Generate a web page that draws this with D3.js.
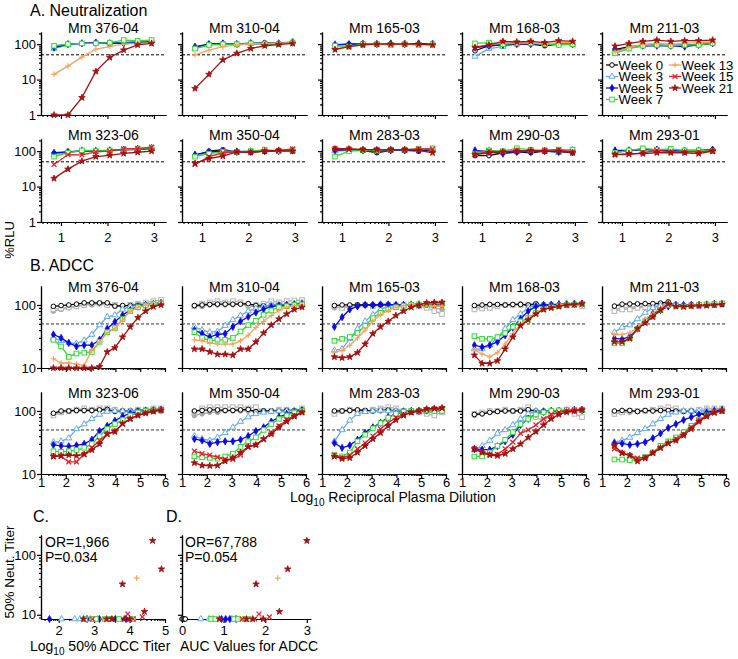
<!DOCTYPE html>
<html><head><meta charset="utf-8">
<script src="https://cdn.jsdelivr.net/npm/d3@7"></script>
<style>body{margin:0;background:#fff}svg{display:block}text{font-family:"Liberation Sans",Arial,sans-serif}</style>
</head><body><svg id="c" width="738" height="659"></svg>
<script>
// ---------- data ----------
const dilA = [0.85, 1.15, 1.45, 1.75, 2.05, 2.35, 2.65, 2.95];   // log10 reciprocal dilution (neut)
const dilB = [1.5, 1.81, 2.12, 2.43, 2.74, 3.05, 3.36, 3.67, 3.98, 4.29, 4.6, 4.91, 5.22, 5.53, 5.84]; // ADCC
const animals = ["Mm 376-04","Mm 310-04","Mm 165-03","Mm 168-03","Mm 211-03","Mm 323-06","Mm 350-04","Mm 283-03","Mm 290-03","Mm 293-01"];
const weeks = ["Week 0","Week 3","Week 5","Week 7","Week 13","Week 15","Week 21"];
const weekColors = ["#000000","#62a8ec","#0a0ae6","#2edc2e","#f6a25a","#e8222a","#a31212"];
const yTicksA = [1, 10, 100];
const xTicksA = [1, 2, 3];
const yTicksB = [10, 100];
const xTicksB = [1, 2, 3, 4, 5, 6];
const yTicksC = [10, 100];
const xTicksC = [2, 3, 4, 5];
const xTicksD = [0, 1, 2, 3];

// Neutralization %RLU: [wk0, wk3, wk5, wk7, wk13, wk15, wk21]
const neut_376_04 = [[85,100,105,110,110,110,115,120],[75,95,105,112,105,110,115,125],[80,100,105,110,105,105,110,115],[90,100,105,105,110,130,125,130],[14,24,43,72,85,100,105,110],null,[1,1,3.1,17,42,68,95,105]];
const neut_310_04 = [[80,100,105,100,105,110,105,110],[75,95,100,100,110,105,105,120],[85,100,105,100,105,100,105,110],[75,95,100,100,105,100,100,110],[50,68,85,95,100,105,105,110],null,[5.6,14,36,55,75,90,97,105]];
const neut_165_03 = [[95,100,105,100,100,100,100,100],[100,95,105,100,100,105,100,105],[95,100,100,100,105,100,105,100],[90,85,100,100,95,100,95,100],[75,85,95,100,100,100,95,95],null,[70,85,95,100,100,100,100,95]];
const neut_168_03 = [[65,90,95,100,100,90,100,100],[45,75,85,100,105,100,105,100],[80,90,95,100,100,100,100,100],[105,110,100,105,105,100,95,100],[85,95,110,110,110,100,110,110],null,[80,95,120,115,120,110,125,120]];
const neut_211_03 = [[70,85,90,95,90,95,95,105],[65,80,90,95,95,90,95,110],[65,80,90,90,90,85,95,105],[55,75,90,95,90,95,95,105],[60,80,100,105,100,105,110,115],null,[88,105,120,130,120,125,125,130]];
const neut_323_06 = [[85,95,100,100,105,110,110,120],[80,95,105,105,105,110,115,125],[90,95,100,100,105,110,115,120],[70,90,105,100,105,110,115,125],null,[42,80,78,95,100,115,120,130],[17,31,52,70,76,86,93,100]];
const neut_350_04 = [[75,100,110,95,95,100,100,105],[75,90,100,100,100,105,105,100],[80,95,100,95,95,100,100,105],[70,85,95,95,100,110,100,110],null,[42,70,90,95,95,100,105,115],[45,62,72,95,92,100,105,100]];
const neut_283_03 = [[110,110,105,90,105,105,100,110],[100,105,105,100,105,105,110,115],[105,110,105,100,105,105,105,110],[70,100,105,105,110,110,115,120],null,[120,115,110,110,110,110,115,115],[115,115,110,110,110,110,105,90]];
const neut_290_03 = [[75,75,90,95,90,100,100,90],[95,105,95,95,100,100,90,110],[105,95,85,95,95,100,95,95],[85,105,100,120,110,105,110,110],null,[80,100,95,105,100,105,110,95],[80,90,95,100,105,100,100,90]];
const neut_293_01 = [[95,100,115,105,100,105,105,110],[100,105,110,110,110,105,105,110],[105,105,110,110,105,100,100,110],[90,105,120,110,115,105,105,100],null,[80,80,90,105,95,95,95,100],[80,85,85,90,90,90,85,100]];

// ADCC %RLU: [wk0, wk3, wk5, wk7, wk13, wk15, wk21]
const adcc_376_04 = [[95,98,100,103,108,108,108,108,96,98,98,100,100,103,103],[30,27,25,24.5,27.5,34,48,65,69,85,95,98,100,102,105],[34,30,25,22,23,23,28,42,54,69,83,94,100,104,108],[28,22,15,17,17.5,18,26,37,43,60,80,92,98,103,106],[14,12,12,11.5,11,19,26,36,42,58,80,92,100,105,106],null,[10,10,10,10,10,10,10.5,18,21,31,45,63,80,94,100]];
const adcc_310_04 = [[98,100,102,103,103,103,103,105,98,97,98,100,100,100,100],[45,40,37,38,47,58,68,80,88,95,100,100,102,105,108],[40,35,31,34,35,45,55,65,76,86,94,98,100,102,104],[37,30,27,28,28,30,38,48,56,70,82,92,96,100,102],[28,27,25,24,24,24,27,33,44,55,68,82,92,98,100],null,[20,20,18,16.5,16.5,16,20,20,26,36,48,60,72,85,92]];
const adcc_165_03 = [[98,100,100,100,100,100,100,100,98,98,100,100,100,100,100],[19,20,29,42,55,70,85,95,100,100,102,104,105,105,105],[45,64,85,95,100,100,102,102,100,100,100,100,102,104,106],[27,29,31,36,47,62,75,85,92,97,100,102,103,104,106],[18,19,23,30,40,55,70,82,92,98,102,104,100,95,95],null,[15,14.5,15,17.5,24,35,45,55,68,80,92,100,108,110,110]];
const adcc_168_03 = [[98,100,102,102,100,102,102,100,105,98,100,100,100,102,102],[20,20,23,30,42,58,72,90,100,100,102,104,106,106,106],[23,21.5,23,26,33,44,60,80,95,100,100,102,102,104,105],[32,29,29,31,36,45,55,62,75,85,92,96,100,102,104],[19.6,16.7,15,17.5,24,35,50,60,75,88,95,100,102,104,104],null,[16,11.8,11.8,13,20,31,47,58,72,85,90,95,100,102,105]];
const adcc_211_03 = [[96,103,104,104,105,105,107,112,95,98,100,100,100,102,102],[37,44,48,60,76,90,98,102,100,100,100,100,102,104,105],[29.5,28.7,31.5,42,55,73,83,95,100,100,100,100,102,104,105],[24.6,24.6,29.5,42,55,65,83,100,97,95,97,100,102,104,106],[34,34,36,44,60,74,90,105,95,98,100,100,102,104,106],null,[26,26,29.5,42,52,65,83,104,95,94,96,97,98,100,102]];
const adcc_323_06 = [[92,100,100,102,102,102,104,106,98,100,100,102,102,104,104],[32,33,37,52,62,75,88,98,100,100,100,102,102,104,104],[29,28,27.5,28.5,30,35,48,58,70,82,92,98,100,102,104],[23,22.5,23,24,26,30,40,52,62,72,85,95,100,102,104],null,[19,19,15.6,15.6,20.5,26,34,43,48,62,75,86,94,100,104],[19,19.5,20,19.5,20.5,24,30,43,47,63,75,85,92,98,102]];
const adcc_350_04 = [[100,102,104,104,102,102,104,106,98,100,100,100,102,102,104],[40,36,34,38,45,55,68,80,90,95,98,100,100,102,104],[36,34,30,32,33,33,35,40,48,55,68,80,90,97,102],[19,18.5,18,17.5,19,21,27,33,38,50,62,75,85,95,100],null,[23,21,20,18.5,17,17,20,27,29,35,45,58,72,85,95],[15,13.7,13.5,13.7,16,18,22,27,29,36,43,55,68,82,95]];
const adcc_283_03 = [[100,100,102,104,102,100,102,104,100,100,100,100,100,102,102],[33,50,71,90,97,100,102,100,100,100,100,100,102,104,104],[31,26,28.5,35,45,55,65,80,90,97,100,100,102,104,104],[20,19,22,33,42,53,64,78,90,98,100,100,102,100,100],null,[20,18,20,25,31,40,52,65,78,88,95,100,105,108,110],[19,17.5,18,22,28,36,45,58,72,85,95,100,108,110,112]];
const adcc_290_03 = [[88,90,95,98,100,100,100,105,100,100,100,100,100,102,102],[24,28,34,44,50,60,75,90,100,100,100,100,102,104,104],[25,24.3,24.3,27.5,33,42,60,75,90,97,100,100,102,104,104],[19,19,22,28,35,46,62,75,88,95,100,102,104,104,104],null,[25,22.5,20.5,20.5,25,32,44,50,60,75,88,95,100,102,104],[25,22,20,19.5,21,25,30,38,47,60,75,88,96,100,104]];
const adcc_293_01 = [[100,102,102,98,102,100,102,102,100,98,100,92,85,100,102],[32,34,38,45,52,62,75,88,95,100,100,100,102,104,104],[31,30.5,29,30,32,37,44,54,62,72,80,88,95,100,104],[17,17,16.5,17,18.5,22,28,33,38,46,58,72,85,95,100],null,[25,21.5,19.8,17.8,18.5,21.5,26,30,36,43,55,70,85,95,100],[28,21.5,19.8,16,17.8,21.5,26,31,34,41,52,68,82,94,100]];

// ADCC control curves (grey): [open squares, filled]
const ctrl_376_04 = [[85,88,92,95,100,105,105,100,100,95,100,105,110,115,120],[80,85,90,95,100,100,105,100,95,95,100,100,105,105,110]];
const ctrl_310_04 = [[95,105,110,115,110,115,110,100,100,105,115,110,115,118,120],[95,95,100,100,100,100,105,95,95,95,100,105,100,100,105]];
const ctrl_165_03 = [[95,90,95,100,100,95,100,100,100,100,100,95,90,80,72],[90,92,95,98,100,100,100,100,100,100,100,98,95,90,85]];
const ctrl_168_03 = [[85,88,90,95,100,100,100,100,100,100,100,95,100,100,95],[90,95,100,100,100,100,105,100,100,100,100,100,100,100,100]];
const ctrl_211_03 = [[80,85,85,90,92,95,95,100,100,95,100,100,100,100,105],[85,90,90,95,95,100,100,105,100,100,100,100,100,105,105]];
const ctrl_323_06 = [[85,95,100,105,110,105,110,110,105,100,100,105,105,110,110],[90,95,100,100,100,100,105,100,100,100,100,100,100,105,105]];
const ctrl_350_04 = [[95,110,115,115,115,115,115,110,115,100,100,105,105,100,110],[85,90,95,95,100,100,100,100,95,100,100,100,100,100,100]];
const ctrl_283_03 = [[90,100,105,100,100,105,110,115,110,100,100,95,90,85,95],[95,100,100,105,100,100,100,100,100,95,100,100,95,95,100]];
const ctrl_290_03 = [[90,95,100,100,105,100,105,115,80,70,85,95,100,90,80],[85,90,95,100,100,100,100,100,100,100,100,100,100,100,100]];
const ctrl_293_01 = [[90,95,100,100,100,105,110,115,110,100,100,105,110,110,110],[90,95,95,100,100,100,100,100,100,100,100,100,100,100,100]];

// Panel C: log10 50% ADCC titer vs 50% neut titer (8.5 = below detection)
const cWeek  = [1,1,1,1,1, 2,2,2,2,2, 3,3,3,3,3,3,3, 4,4, 5,5,5,5,5, 6,6,6,6,6,6,6,6,6];
const cTiter = [2.08,2.45,2.6,2.9,3.1, 1.74,2.8,3.15,3.6,3.9, 2.75,2.95,3.05,3.3,3.45,3.7,4.1, 3.25,4.2, 2.95,3.5,3.95,4.36,4.1, 2.7,3.35,3.5,3.85,4.0,3.8,4.42,4.65,4.9];
const cNeut  = [8.5,8.5,8.5,8.5,8.5, 8.5,8.5,8.5,8.5,8.5, 8.5,8.5,8.5,8.5,8.5,8.5,8.5, 8.5,41, 8.5,8.5,10.3,9.2,8.5, 8.5,8.5,8.5,8.5,8.5,32.5,11.3,173,58];
// Panel D: AUC values for ADCC vs 50% neut titer
const dWeek = [0,0,0,0, 1,1,1,1, 2,2,2,2, 3,3,3,3,3,3, 4,4, 5,5,5,5, 6,6,6,6,6,6,6,6];
const dAUC  = [0,0.03,0.06,0.08, 0.45,0.65,0.75,1.2, 0.95,1.05,1.15,1.3, 0.7,0.8,1.25,1.35,1.5,1.6, 1.4,2.3, 1.45,1.75,1.85,2.1, 0.9,1.55,1.7,1.95,1.78,2.34,2.54,3.0];
const dNeut = [8.5,8.5,8.5,8.5, 8.5,8.5,8.5,8.5, 8.5,8.5,8.5,8.5, 8.5,8.5,8.5,8.5,8.5,8.5, 8.5,41, 8.5,8.5,10.3,9.2, 8.5,8.5,8.5,8.5,32.5,11.3,58,173];

const neutPanels = [neut_376_04,neut_310_04,neut_165_03,neut_168_03,neut_211_03,neut_323_06,neut_350_04,neut_283_03,neut_290_03,neut_293_01];
const adccPanels = [adcc_376_04,adcc_310_04,adcc_165_03,adcc_168_03,adcc_211_03,adcc_323_06,adcc_350_04,adcc_283_03,adcc_290_03,adcc_293_01];
const ctrlPanels = [ctrl_376_04,ctrl_310_04,ctrl_165_03,ctrl_168_03,ctrl_211_03,ctrl_323_06,ctrl_350_04,ctrl_283_03,ctrl_290_03,ctrl_293_01];

// ---------- drawing ----------
const svg = d3.select("#c");
const FONT = '"Liberation Sans",Arial,sans-serif';
const colLeft = [41, 182, 322, 462, 602];
const PW = 125;

function drawSym(g, t, c) {
  switch (t) {
    case 0: g.append("circle").attr("r", 2.3).attr("fill", "#fff").attr("stroke", c).attr("stroke-width", 1); break;
    case 1: g.append("path").attr("d", d3.symbol(d3.symbolTriangle, 16)()).attr("fill", "#fff").attr("stroke", c).attr("stroke-width", 1); break;
    case 2: g.append("path").attr("d", d3.symbol(d3.symbolDiamond, 15)()).attr("fill", c).attr("stroke", c).attr("stroke-width", 0.8); break;
    case 3: g.append("rect").attr("x", -2.3).attr("y", -2.3).attr("width", 4.6).attr("height", 4.6).attr("fill", "#fff").attr("stroke", c).attr("stroke-width", 1); break;
    case 4: g.append("path").attr("d", "M-2.8,0H2.8M0,-2.8V2.8").attr("stroke", c).attr("stroke-width", 1.1); break;
    case 5: g.append("path").attr("d", "M-2.4,-2.4L2.4,2.4M-2.4,2.4L2.4,-2.4").attr("stroke", c).attr("stroke-width", 1.3); break;
    case 6: g.append("path").attr("d", d3.symbol(d3.symbolStar, 13)()).attr("fill", c).attr("stroke", c).attr("stroke-width", 0.9); break;
    case 7: g.append("circle").attr("r", 2.3).attr("fill", c).attr("stroke", c); break;
  }
}

function logMinorVals(d0, d1) {
  const out = [];
  for (let e = Math.floor(Math.log10(d0)) - 1; e <= Math.ceil(Math.log10(d1)); e++)
    for (let k = 2; k <= 9; k++) { const v = k * Math.pow(10, e); if (v > d0 * 1.0001 && v < d1) out.push(v); }
  return out;
}
function linLogMinorVals(d0, d1) {
  const out = [];
  for (let n = Math.floor(d0) - 1; n <= Math.ceil(d1); n++)
    for (let k = 2; k <= 9; k++) { const v = n + Math.log10(k); if (v > d0 + 0.01 && v < d1) out.push(v); }
  return out;
}
function styleAxis(s) {
  s.attr("font-family", FONT).attr("font-size", 13);
  s.selectAll("path,line").attr("stroke", "#000").attr("stroke-width", 1.2);
  s.selectAll("text").attr("fill", "#000");
}
function yAxis(g, y, left, majors, labels) {
  g.append("g").attr("transform", `translate(${left},0)`)
    .call(d3.axisLeft(y).tickValues(logMinorVals(...y.domain())).tickSize(2).tickSizeOuter(0).tickFormat(""))
    .call(styleAxis);
  g.append("g").attr("transform", `translate(${left},0)`)
    .call(d3.axisLeft(y).tickValues(majors).tickSize(4).tickSizeOuter(0).tickPadding(1).tickFormat(labels ? d3.format("d") : ""))
    .call(styleAxis);
}
function xAxis(g, x, bottom, majors, labels, pad, minor) {
  if (minor) g.append("g").attr("transform", `translate(0,${bottom})`)
    .call(d3.axisBottom(x).tickValues(linLogMinorVals(...x.domain())).tickSize(2).tickSizeOuter(0).tickFormat(""))
    .call(styleAxis);
  g.append("g").attr("transform", `translate(0,${bottom})`)
    .call(d3.axisBottom(x).tickValues(majors).tickSize(4).tickSizeOuter(0).tickPadding(pad).tickFormat(labels ? d3.format("d") : ""))
    .call(styleAxis);
}

function drawSeries(g, xs, vals, x, y, t, c) {
  const pts = vals.map((v, i) => [xs[i], v]);
  g.append("path").datum(pts)
    .attr("d", d3.line().x(d => x(d[0])).y(d => y(d[1])))
    .attr("fill", "none").attr("stroke", c).attr("stroke-width", 1.3);
  g.append("g").selectAll("g").data(pts).join("g")
    .attr("transform", d => `translate(${x(d[0])},${y(d[1])})`)
    .each(function () { drawSym(d3.select(this), t, c); });
}

function label(x, y, txt, size, anchor) {
  return svg.append("text").attr("x", x).attr("y", y).attr("font-size", size).attr("font-family", FONT)
    .attr("text-anchor", anchor || "start").text(txt);
}
label(30, 15.5, "A. Neutralization", 16);
label(30, 270.5, "B. ADCC", 16);
label(33, 521.5, "C.", 16);
label(166, 521.5, "D.", 16);

svg.append("text").attr("transform", "translate(14,240) rotate(-90)").attr("text-anchor", "middle")
  .attr("font-size", 13).attr("font-family", FONT).text("%RLU");

// ---- Panel A ----
const rowTopA = [32, 139], HA = 83;
neutPanels.forEach((series, p) => {
  const r = Math.floor(p / 5), c = p % 5;
  const left = colLeft[c], top = rowTopA[r], bottom = top + HA;
  const x = d3.scaleLinear().domain([0.57, 3.26]).range([left, left + PW]);
  const y = d3.scaleLog().domain([1, 220]).range([bottom, top]);
  const g = svg.append("g");
  yAxis(g, y, left, yTicksA, c === 0);
  xAxis(g, x, bottom, xTicksA, r === 1, 6.5, true);
  g.append("line").attr("x1", left).attr("x2", left + PW).attr("y1", y(50)).attr("y2", y(50))
    .attr("stroke", "#000").attr("stroke-width", 1).attr("stroke-dasharray", "3,2");
  g.append("text").attr("x", left + PW / 2).attr("y", top + 1).attr("text-anchor", "middle")
    .attr("font-size", 14).attr("font-family", FONT).text(animals[p]);
  series.forEach((vals, w) => { if (vals) drawSeries(g, dilA, vals, x, y, w, weekColors[w]); });
});

// Legend (inside Mm 211-03 panel)
const legPos = [[612, 65], [612, 76.5], [612, 88], [612, 99.5], [675, 65], [675, 76.5], [675, 88]];
weeks.forEach((wk, i) => {
  const [cx, cy] = legPos[i];
  const lg = svg.append("g");
  lg.append("line").attr("x1", cx - 6).attr("x2", cx + 6).attr("y1", cy).attr("y2", cy)
    .attr("stroke", weekColors[i]).attr("stroke-width", 1.3);
  drawSym(lg.append("g").attr("transform", `translate(${cx},${cy})`), i, weekColors[i]);
  lg.append("text").attr("x", cx + 6.5).attr("y", cy + 4.8).attr("font-size", 13.2).attr("font-family", FONT).text(wk);
});

// ---- Panel B ----
const rowTopB = [286, 392], HB = 82;
adccPanels.forEach((series, p) => {
  const r = Math.floor(p / 5), c = p % 5;
  const left = colLeft[c], top = rowTopB[r], bottom = top + HB;
  const x = d3.scaleLinear().domain([1, 6]).range([left, left + 124]);
  const y = d3.scaleLog().domain([10, 200]).range([bottom, top]);
  const g = svg.append("g");
  yAxis(g, y, left, yTicksB, c === 0);
  xAxis(g, x, bottom, xTicksB, r === 1, 0, true);
  g.append("line").attr("x1", left).attr("x2", left + 124).attr("y1", y(50)).attr("y2", y(50))
    .attr("stroke", "#333").attr("stroke-width", 1).attr("stroke-dasharray", "3,2");
  g.append("text").attr("x", left + PW / 2).attr("y", top + 5.5).attr("text-anchor", "middle")
    .attr("font-size", 14).attr("font-family", FONT).text(animals[p]);
  const ctrl = ctrlPanels[p];
  drawSeries(g, dilB, ctrl[1], x, y, 7, "#a6a6a6");
  drawSeries(g, dilB, ctrl[0], x, y, 3, "#b3b3b3");
  series.forEach((vals, w) => { if (vals) drawSeries(g, dilB, vals, x, y, w, weekColors[w]); });
});

// x-axis title for B
const xt = svg.append("text").attr("x", 290).attr("y", 502).attr("font-size", 14).attr("font-family", FONT);
xt.append("tspan").text("Log");
xt.append("tspan").attr("dy", 4).attr("font-size", 10).text("10");
xt.append("tspan").attr("dy", -4).text(" Reciprocal Plasma Dilution");

// ---- Panels C & D ----
const topC = 535, botC = 619;
const yC = d3.scaleLog().domain([8.5, 215]).range([botC, topC]);
function scatterPanel(left, width, xdom, xticks, xs, ys, ws, minor, ylabels) {
  const x = d3.scaleLinear().domain(xdom).range([left, left + width]);
  const g = svg.append("g");
  yAxis(g, yC, left, yTicksC, ylabels);
  xAxis(g, x, botC, xticks, true, 2.5, minor);
  const pts = xs.map((v, i) => ({ x: v, y: ys[i], w: ws[i] }));
  g.append("g").selectAll("g").data(pts).join("g")
    .attr("transform", d => `translate(${x(d.x)},${yC(d.y)})`)
    .each(function (d) { drawSym(d3.select(this), d.w, weekColors[d.w]); });
  return x;
}
scatterPanel(41, 124, [1.5, 5.0], xTicksC, cTiter, cNeut, cWeek, true, true);
scatterPanel(182, 129, [0, 3.1], xTicksD, dAUC, dNeut, dWeek, false, false);

label(45, 547, "OR=1,966", 14);
label(45, 561.5, "P=0.034", 14);
label(185, 547, "OR=67,788", 14);
label(185, 561.5, "P=0.054", 14);

svg.append("text").attr("transform", "translate(14,572) rotate(-90)").attr("text-anchor", "middle")
  .attr("font-size", 13.5).attr("font-family", FONT).text("50% Neut. Titer");
const ct = svg.append("text").attr("x", 30).attr("y", 651).attr("font-size", 14).attr("font-family", FONT);
ct.append("tspan").text("Log");
ct.append("tspan").attr("dy", 4).attr("font-size", 10).text("10");
ct.append("tspan").attr("dy", -4).text(" 50% ADCC Titer");
label(180, 651, "AUC Values for ADCC", 14);
</script></body></html>
